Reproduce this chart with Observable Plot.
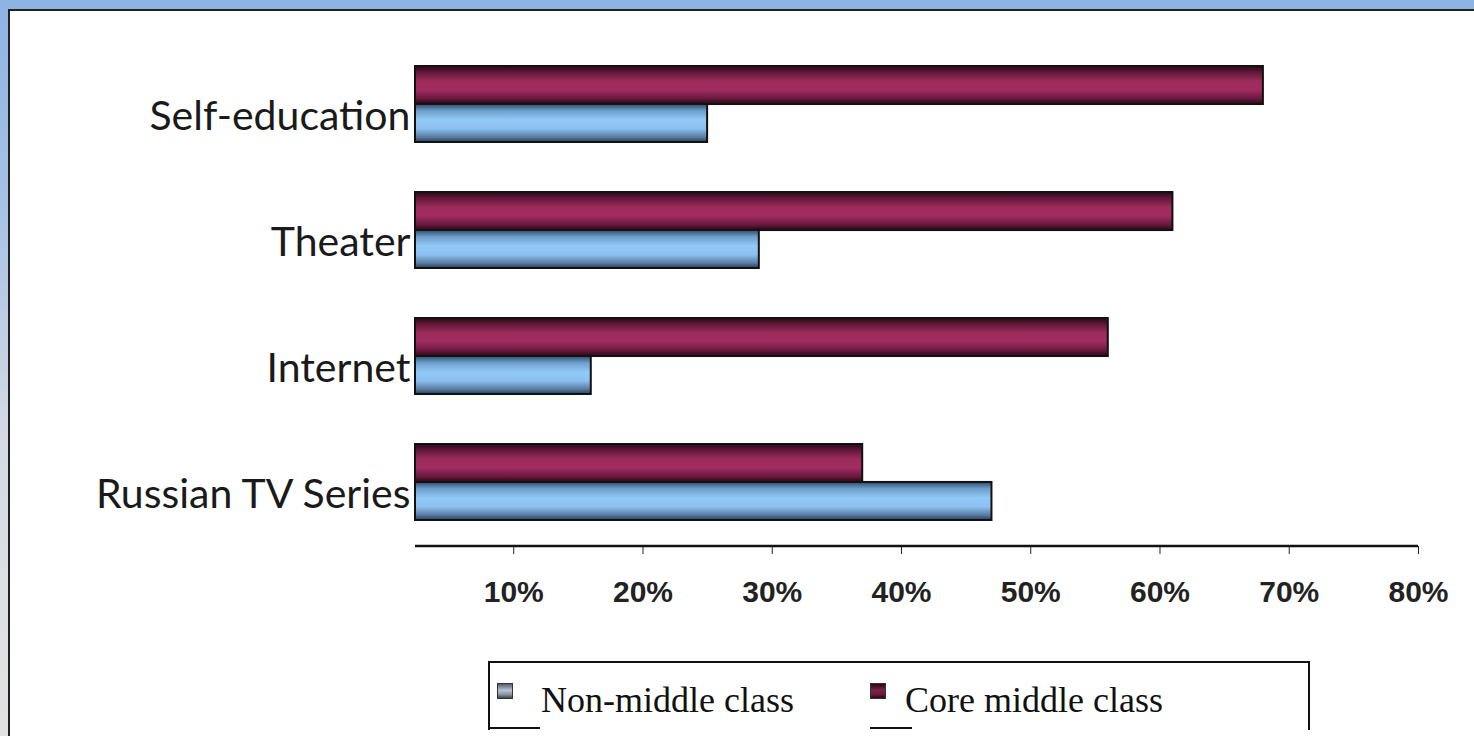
<!DOCTYPE html>
<html>
<head>
<meta charset="utf-8">
<script src="https://cdn.jsdelivr.net/npm/d3@7"></script>
<script src="https://cdn.jsdelivr.net/npm/@observablehq/plot@0.6"></script>
<style>
html, body { margin: 0; padding: 0; background: #fff; }
#page { position: relative; width: 1474px; height: 736px; overflow: hidden; background: #fff; }
.topband { position: absolute; left: 0; top: 0; width: 1474px; height: 9px; background: #8db4e3; }
.topline { position: absolute; left: 8px; top: 9px; width: 1466px; height: 2px; background: #222; }
.leftband { position: absolute; left: 0; top: 0; width: 8px; height: 736px;
  background: linear-gradient(#8db4e3, #a9c2e6 30%, #d5dbe3 60%, #e2e2e2); }
.leftline { position: absolute; left: 8px; top: 9px; width: 2px; height: 727px; background: #222; }
#chart { position: absolute; left: 0; top: 0; }
#legend { position: absolute; left: 488px; top: 661px; width: 818px; height: 67px;
  border: 2px solid #111; border-bottom: none; }
.seg { position: absolute; height: 2px; background: #111; top: 727px; }
.sw { position: absolute; width: 14px; height: 14px; border: 1px solid #333; }
.lt { position: absolute; font-family: "Liberation Serif", "Times New Roman", serif; font-size: 36px;
  line-height: 36px; color: #111; white-space: nowrap; }
</style>
</head>
<body>
<div id="page">
  <div class="topband"></div>
  <div class="leftband"></div>
  <div class="topline"></div>
  <div class="leftline"></div>
  <div id="chart"></div>
  <div id="legend"></div>
  <div class="seg" style="left:490px;width:50px;"></div>
  <div class="seg" style="left:870px;width:42px;"></div>
</div>
<script>
// ---- data ----
const categories = ["Self-education", "Theater", "Internet", "Russian TV Series"];
const seriesNames = ["Core middle class", "Non-middle class"];
const coreMiddle = [68, 61, 56, 37];
const nonMiddle = [25, 29, 16, 47];
const xTicks = [10, 20, 30, 40, 50, 60, 70, 80];
const xDomain = [2.4, 80];

const rows = categories.flatMap((c, i) => [
  {category: c, series: seriesNames[0], value: coreMiddle[i]},
  {category: c, series: seriesNames[1], value: nonMiddle[i]}
]);

// ---- layout ----
const W = 1474, H = 620, MT = 40, MB = 74, ML = 415, MR = 56;
const PI = 0.4, PO = 0.2;
const step = (H - MT - MB) / (categories.length - PI + 2 * PO);
const half = step * (1 - PI) / 2;

const chart = Plot.plot({
  width: W, height: H,
  marginLeft: ML, marginRight: MR, marginTop: MT, marginBottom: MB,
  style: {background: "transparent", overflow: "visible", fontFamily: "'Liberation Sans', Arial, sans-serif",
          fontSize: "30px", fontWeight: "bold", color: "#222"},
  x: {domain: xDomain, clamp: true, ticks: xTicks, tickFormat: d => d + "%", tickSize: 8, tickPadding: 26, label: null},
  y: {domain: categories, axis: null, paddingInner: PI, paddingOuter: PO},
  color: {domain: seriesNames, range: ["url(#gradCore)", "url(#gradNon)"]},
  marks: [
    Plot.barX(rows.filter(d => d.series === seriesNames[0]),
      {y: "category", x: "value", fill: "series", stroke: "#111", strokeWidth: 2, insetBottom: half}),
    Plot.barX(rows.filter(d => d.series === seriesNames[1]),
      {y: "category", x: "value", fill: "series", stroke: "#111", strokeWidth: 2, insetTop: half}),
    Plot.text(categories, {y: d => d, text: d => d, frameAnchor: "left", textAnchor: "end",
      dx: -5, dy: 12, fontSize: 41, fontFamily: "Lato", fontWeight: "normal", fill: "#1a1a1a"})
  ]
});

// gradients for the 3D-looking bars
const defs = `
<defs>
  <linearGradient id="gradCore" x1="0" y1="0" x2="0" y2="1">
    <stop offset="0" stop-color="#2a0716"/>
    <stop offset="0.15" stop-color="#5e1736"/>
    <stop offset="0.4" stop-color="#9c2c5c"/>
    <stop offset="0.62" stop-color="#a22c60"/>
    <stop offset="0.85" stop-color="#6a1a3e"/>
    <stop offset="1" stop-color="#2a0716"/>
  </linearGradient>
  <linearGradient id="gradNon" x1="0" y1="0" x2="0" y2="1">
    <stop offset="0" stop-color="#2e4a68"/>
    <stop offset="0.18" stop-color="#6e9fcc"/>
    <stop offset="0.42" stop-color="#93c9f7"/>
    <stop offset="0.65" stop-color="#8bc0f0"/>
    <stop offset="0.87" stop-color="#5a7ca4"/>
    <stop offset="1" stop-color="#2a3e56"/>
  </linearGradient>
</defs>`;
chart.insertAdjacentHTML("afterbegin", defs);

// x axis domain line
const xs = chart.scale("x");
d3.select(chart).append("line")
  .attr("x1", xs.apply(xDomain[0])).attr("x2", xs.apply(xDomain[1]))
  .attr("y1", H - MB).attr("y2", H - MB)
  .attr("stroke", "#111").attr("stroke-width", 2.5);

document.getElementById("chart").appendChild(chart);

// legend (HTML)
const page = document.getElementById("page");
const legendItems = [
  {name: seriesNames[1], sx: 497, tx: 541, bg: "linear-gradient(#555d6a, #b9c4d2 45%, #8a93a0 75%, #3d4550)"},
  {name: seriesNames[0], sx: 870, tx: 905, bg: "linear-gradient(#2a0716, #7a2446 45%, #6a1a3e 75%, #2a0716)"}
];
legendItems.forEach(it => {
  const sw = document.createElement("div");
  sw.className = "sw";
  sw.style.left = it.sx + "px"; sw.style.top = "683px"; sw.style.background = it.bg;
  page.appendChild(sw);
  const t = document.createElement("div");
  t.className = "lt";
  t.style.left = it.tx + "px"; t.style.top = "682px";
  t.textContent = it.name;
  page.appendChild(t);
});
</script>
</body>
</html>
